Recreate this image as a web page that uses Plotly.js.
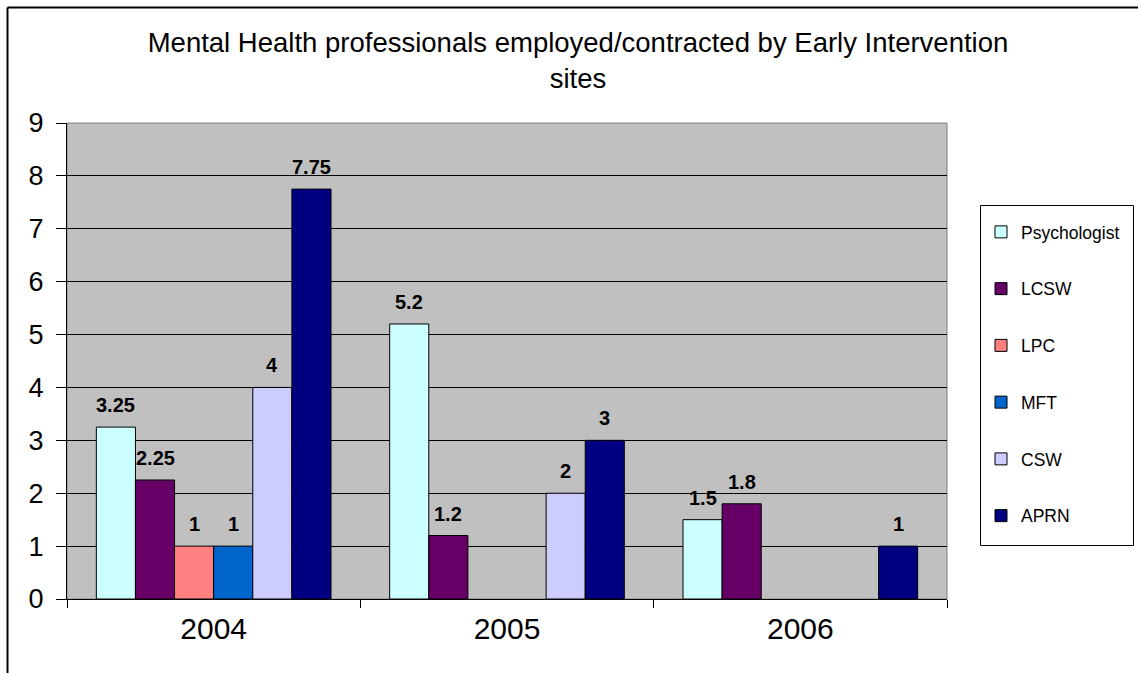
<!DOCTYPE html>
<html>
<head>
<meta charset="utf-8">
<script src="https://cdn.plot.ly/plotly-3.0.1.min.js"></script>
<style>
html,body{margin:0;padding:0;background:#fff;}
#chart{width:1138px;height:673px;}
</style>
</head>
<body>
<div id="chart"></div>
<script>
var years = ['2004', '2005', '2006'];
var seriesNames = ['Psychologist', 'LCSW', 'LPC', 'MFT', 'CSW', 'APRN'];
var psychologist = [3.25, 5.2, 1.5];
var lcsw = [2.25, 1.2, 1.8];
var lpc = [1, null, null];
var mft = [1, null, null];
var csw = [4, 2, null];
var aprn = [7.75, 3, 1];
var colors = ['#CCFFFF', '#660066', '#FF8080', '#0066CC', '#CCCCFF', '#000080'];
var titleText = 'Mental Health professionals employed/contracted by Early Intervention<br>sites';

var FONT = 'Arial, "Liberation Sans", sans-serif';
var values = [psychologist, lcsw, lpc, mft, csw, aprn];
var BARGAP = 0.2;

var traces = values.map(function (v, i) {
  return {
    type: 'bar',
    name: seriesNames[i],
    x: years,
    y: v,
    legendgroup: 'g' + i,
    marker: {color: colors[i], line: {color: '#000000', width: 1}},
    hoverinfo: 'x+y+name'
  };
});

// data labels placed above each bar via annotations (grouped-bar offsets)
var annotations = [];
var n = values.length;
var slot = (1 - BARGAP) / n;
values.forEach(function (v, i) {
  v.forEach(function (d, j) {
    if (d === null) return;
    annotations.push({
      xref: 'x', yref: 'y',
      x: j + (i - (n - 1) / 2) * slot,
      y: d,
      text: String(d),
      showarrow: false,
      xanchor: 'center', yanchor: 'bottom',
      yshift: 9,
      font: {family: FONT, size: 20, color: '#000000', weight: 'bold'}
    });
  });
});

var L = 67, R = 947, T = 123, B = 599, W = 1138, H = 673;
function px2x(px) { return (px - L) / (R - L); }
function py2y(py) { return (B - py) / (B - T); }

var layout = {
  width: W, height: H,
  margin: {l: L, r: W - R, t: T, b: H - B, pad: 0},
  paper_bgcolor: '#ffffff',
  plot_bgcolor: '#C0C0C0',
  font: {family: FONT, color: '#000000'},
  barmode: 'group',
  bargap: BARGAP,
  bargroupgap: 0,
  title: {
    text: titleText,
    font: {family: FONT, size: 27.5, color: '#000000'},
    x: 578 / W, xref: 'container', xanchor: 'center',
    y: 1 - 52 / H, yref: 'container', yanchor: 'middle'
  },
  xaxis: {
    type: 'category',
    showgrid: false,
    showline: true, linecolor: '#000000', linewidth: 1,
    ticks: 'outside', ticklen: 8, tickcolor: '#000000',
    tickson: 'boundaries',
    tickfont: {family: FONT, size: 30, color: '#000000'},
    ticklabelstandoff: 3,
    zeroline: false
  },
  yaxis: {
    range: [0, 9], dtick: 1, tick0: 0,
    showgrid: true, gridcolor: '#000000', gridwidth: 1,
    showline: true, linecolor: '#000000', linewidth: 1,
    ticks: 'outside', ticklen: 10, tickcolor: '#000000',
    tickfont: {family: FONT, size: 27, color: '#000000'},
    ticklabelstandoff: 7,
    zeroline: false, fixedrange: true
  },
  showlegend: true,
  legend: {
    x: px2x(981), xanchor: 'left',
    y: py2y(214), yanchor: 'top',
    bgcolor: 'rgba(0,0,0,0)', borderwidth: 0,
    font: {family: FONT, size: 17.5, color: '#000000'},
    traceorder: 'grouped', tracegroupgap: 31,
    entrywidth: 120, entrywidthmode: 'pixels'
  },
  annotations: annotations,
  shapes: [
    {type: 'rect', xref: 'paper', yref: 'paper', x0: 0, x1: 1, y0: 0, y1: 1,
     line: {color: '#808080', width: 1}, fillcolor: 'rgba(0,0,0,0)', layer: 'below'},
    {type: 'rect', xref: 'paper', yref: 'paper', x0: px2x(980.5), x1: px2x(1133.5), y0: py2y(545.5), y1: py2y(205.5),
     line: {color: '#000000', width: 1}, fillcolor: '#ffffff', layer: 'below'},
    {type: 'line', xref: 'paper', yref: 'paper', x0: px2x(7.5), x1: px2x(7.5), y0: py2y(680), y1: py2y(7.5),
     line: {color: '#000000', width: 2}},
    {type: 'line', xref: 'paper', yref: 'paper', x0: px2x(7.5), x1: px2x(1140), y0: py2y(7.5), y1: py2y(7.5),
     line: {color: '#000000', width: 2}}
  ]
};

Plotly.newPlot('chart', traces, layout, {displayModeBar: false, staticPlot: true});
</script>
</body>
</html>
